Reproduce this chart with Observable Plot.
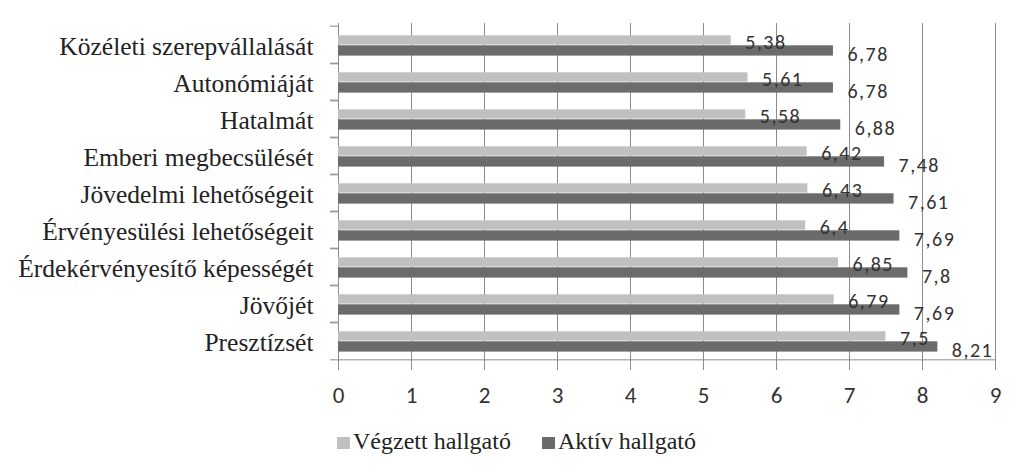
<!DOCTYPE html>
<html>
<head>
<meta charset="utf-8">
<script src="https://cdn.jsdelivr.net/npm/d3@7"></script>
<script src="https://cdn.jsdelivr.net/npm/@observablehq/plot@0.6"></script>
</head>
<body style="margin:0;padding:0;background:#fff">
<div id="chart"></div>
<div id="legend" style="position:relative;width:1024px;height:65px;"></div>
<script>
const categories = [
  "Közéleti szerepvállalását",
  "Autonómiáját",
  "Hatalmát",
  "Emberi megbecsülését",
  "Jövedelmi lehetőségeit",
  "Érvényesülési lehetőségeit",
  "Érdekérvényesítő képességét",
  "Jövőjét",
  "Presztízsét"
];
const vegzett = [5.38, 5.61, 5.58, 6.42, 6.43, 6.4, 6.85, 6.79, 7.5];
const aktiv   = [6.78, 6.78, 6.88, 7.48, 7.61, 7.69, 7.8, 7.69, 8.21];
const seriesNames = ["Végzett hallgató", "Aktív hallgató"];
const seriesColors = ["#c0c0c0", "#6b6b6b"];
const xTicks = [0, 1, 2, 3, 4, 5, 6, 7, 8, 9];

const rows = categories.map((c, i) => ({category: c, vegzett: vegzett[i], aktiv: aktiv[i]}));
const fmt = v => String(v).replace(".", ",");

const H = 410, MT = 23, MB = 48;
const band = (H - MT - MB) / categories.length;
const SERIF = "'Liberation Serif', 'Times New Roman', serif";
const SANS = "Carlito, Calibri, sans-serif";

const chart = Plot.plot({
  width: 1024,
  height: H,
  marginTop: MT,
  marginBottom: MB,
  marginLeft: 338,
  marginRight: 29,
  style: {background: "white", color: "#333"},
  x: {domain: [0, 9]},
  y: {domain: categories, padding: 0},
  marks: [
    Plot.gridX(xTicks, {stroke: "#8c8c8c", strokeOpacity: 1}),
    Plot.ruleY([categories[categories.length - 1]], {x1: 0, x2: 9, dy: band / 2, stroke: "#8c8c8c"}),
    Plot.barX(rows, {x: "vegzett", y: "category", fill: seriesColors[0], insetTop: 9.3, insetBottom: 18.4}),
    Plot.barX(rows, {x: "aktiv", y: "category", fill: seriesColors[1], insetTop: 19.3, insetBottom: 7.4}),
    Plot.text(rows, {x: "vegzett", y: "category", text: d => fmt(d.vegzett), dx: 14, dy: -2, textAnchor: "start", fontSize: 20, fill: "#333", className: "vals"}),
    Plot.text(rows, {x: "aktiv", y: "category", text: d => fmt(d.aktiv), dx: 14, dy: 9.5, textAnchor: "start", fontSize: 20, fill: "#333", className: "vals"}),
    Plot.axisX({ticks: xTicks, tickSize: 8, tickPadding: 16, fontSize: 23, stroke: "#8c8c8c", fill: "#333", label: null, tickFormat: d => String(d), className: "xax"}),
    Plot.axisY({tickSize: 0, tickPadding: 25, fontSize: 25.5, fill: "#222", dy: 2, label: null, className: "cats"}),
    Plot.axisY({tickSize: 8, text: null, dy: -band / 2, stroke: "#8c8c8c", label: null}),
    Plot.axisY({tickSize: 8, text: null, dy: band / 2, stroke: "#8c8c8c", label: null})
  ]
});
document.getElementById("chart").appendChild(chart);
chart.querySelectorAll(".vals text").forEach(t => { t.style.fontFamily = SANS; t.style.letterSpacing = "1.5px"; });
chart.querySelectorAll(".xax text").forEach(t => { t.style.fontFamily = SANS; });
chart.querySelectorAll(".cats text").forEach(t => { t.style.fontFamily = SERIF; });

const legend = document.getElementById("legend");
const legendX = [337, 542];
seriesNames.forEach((name, i) => {
  const sw = document.createElement("div");
  sw.style.cssText = `position:absolute;left:${legendX[i]}px;top:27px;width:13px;height:12px;background:${seriesColors[i]}`;
  legend.appendChild(sw);
  const lb = document.createElement("div");
  lb.style.cssText = `position:absolute;left:${legendX[i] + 16}px;top:19px;line-height:1;white-space:nowrap;font-size:24px;color:#222;font-family:${SERIF}`;
  lb.textContent = name;
  legend.appendChild(lb);
});
</script>
</body>
</html>
